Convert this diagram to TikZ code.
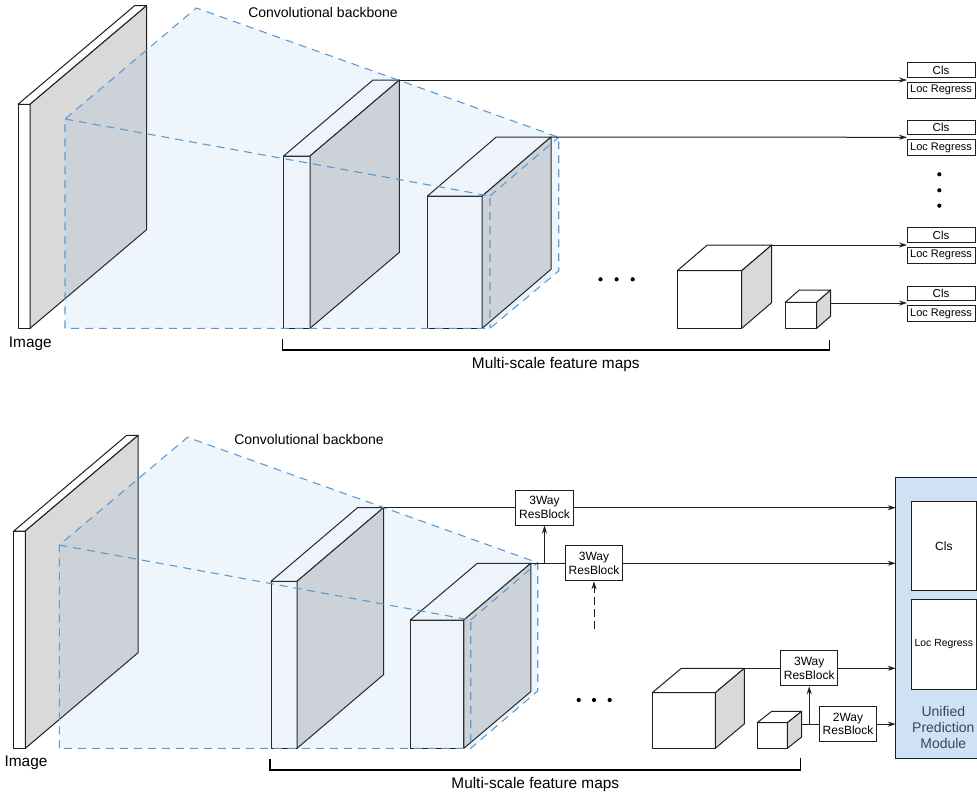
\documentclass[tikz,border=0pt]{standalone}
\usepackage{fontspec}
\setmainfont{Liberation Sans}
\usetikzlibrary{arrows.meta,calc}
\definecolor{dashblue}{HTML}{5B9BD5}
\definecolor{sidegray}{HTML}{D9D9D9}
\definecolor{upmfill}{HTML}{CFE2F3}
\definecolor{upmtext}{HTML}{33495F}
\definecolor{edgecol}{HTML}{1E1E1E}
\tikzset{
  cubeedge/.style={draw=edgecol,line width=1pt,line join=round},
  blueline/.style={draw=dashblue,line width=1.1pt,dash pattern=on 8pt off 6pt},
  conn/.style={draw=edgecol,line width=1pt},
  arr/.style={conn,-{Stealth[length=8pt,width=5pt]}},
  headbox/.style={draw=edgecol,line width=1pt,fill=white,minimum width=68pt,inner sep=0pt},
  clsbox/.style={headbox,minimum height=14.5pt,font=\fontsize{11.5}{13}\selectfont},
  locbox/.style={headbox,minimum height=15.5pt,font=\fontsize{11}{12}\selectfont},
  resbox/.style={draw=edgecol,line width=1pt,fill=white,minimum width=57.5pt,minimum height=35pt,inner sep=0pt,align=center,font=\fontsize{12}{13.3}\selectfont},
  bigtxt/.style={inner sep=0pt,anchor=base,font=\fontsize{15.4}{18}\selectfont},
  convtxt/.style={inner sep=0pt,anchor=base,font=\fontsize{14}{16}\selectfont},
  bracket/.style={draw=black,line width=1.5pt},
  dotn/.style={circle,fill=black,inner sep=0pt,minimum size=4.2pt}
}
\newcommand\mycuboid[7]{%
  \coordinate (#1-ftl) at (#2,#3);
  \coordinate (#1-ftr) at (#4,#3);
  \coordinate (#1-fbl) at (#2,#5);
  \coordinate (#1-fbr) at (#4,#5);
  \coordinate (#1-btl) at ($(#1-ftl)+(#6,#7)$);
  \coordinate (#1-btr) at ($(#1-ftr)+(#6,#7)$);
  \coordinate (#1-bbr) at ($(#1-fbr)+(#6,#7)$);
  \coordinate (#1-side) at ($(#1-btr)!0.5!(#1-bbr)$);
  \draw[cubeedge,fill=white] (#1-fbl) rectangle (#1-ftr);
  \draw[cubeedge,fill=white] (#1-ftl)--(#1-btl)--(#1-btr)--(#1-ftr)--cycle;
  \draw[cubeedge,fill=sidegray] (#1-ftr)--(#1-btr)--(#1-bbr)--(#1-fbr)--cycle;
}
\begin{document}
\begin{tikzpicture}[x=1pt,y=-1pt]
\useasboundingbox (0,0) rectangle (977,792);

%%%%%%%%%%%%%%%% TOP PANEL %%%%%%%%%%%%%%%%
\mycuboid{timg}{18}{104.3}{30}{328.3}{116.6}{-98.6}
\mycuboid{tf1}{283.6}{156}{310}{328.3}{89.4}{-76}
\mycuboid{tf2}{427.5}{196}{482.2}{328.3}{68.8}{-59}
\coordinate (tA) at (65,328.3);
\coordinate (tB) at (65,119);
\coordinate (tC) at (196.3,8);
\coordinate (tD) at (558.7,137.3);
\coordinate (tE) at (558.7,271);
\coordinate (tF) at (490,328.3);
\coordinate (tG) at (490,196);
\path[fill=dashblue,fill opacity=0.1] (tA)--(tB)--(tC)--(tD)--(tE)--(tF)--cycle;
\draw[blueline] (tA)--(tB)--(tC)--(tD)--(tE)--(tF)--cycle;
\draw[blueline] (tB)--(tG)--(tF);
\draw[blueline] (tG)--(tD);
\mycuboid{tf3}{677.3}{270.7}{741.7}{328.3}{30}{-25.7}
\mycuboid{tf4}{785.3}{302.3}{816.7}{328.3}{14}{-12.3}

% heads
\foreach \i/\y in {1/80,2/137.3,3/245,4/303.3}{
  \node[clsbox] (tcls\i) at (941,\y-10) {Cls};
  \node[locbox] (tloc\i) at (941,\y+10.25) {Loc Regress};
  \coordinate (thead\i) at (907,\y);
}
\draw[arr] (tf1-btr) -- (thead1);
\draw[arr] (tf2-btr) -- (thead2);
\draw[arr] (tf3-btr) -- (thead3);
\draw[arr] (tf4-side) -- (thead4 |- tf4-side);

\node[dotn] (tv1) at (939.3,174.3) {};
\node[dotn] (tv2) at (939.3,190.3) {};
\node[dotn] (tv3) at (939.3,205.7) {};
\node[dotn] (th1) at (600.5,279.3) {};
\node[dotn] (th2) at (616.6,279.3) {};
\node[dotn] (th3) at (632.7,279.3) {};

\coordinate (tbr1) at (282.4,339.3);
\coordinate (tbr2) at (829.3,339.8);
\draw[bracket] (tbr1) -- (tbr1 |- 0,350) -- (tbr2 |- 0,350) -- (tbr2);

\node[convtxt] (tconv) at (323,17.3) {Convolutional backbone};
\node[bigtxt] (timgtxt) at (30.3,347.7) {Image};
\node[bigtxt] (tmulti) at (555.8,368.3) {Multi-scale feature maps};

%%%%%%%%%%%%%%%% BOTTOM PANEL %%%%%%%%%%%%%%%%
\mycuboid{bimg}{13.8}{531}{25.3}{748.3}{112.9}{-95.7}
\mycuboid{bf1}{271}{581.3}{297}{748.3}{86.5}{-73.6}
\mycuboid{bf2}{410.3}{620}{463.8}{748.3}{67}{-56.7}
\coordinate (bA) at (59.3,748.3);
\coordinate (bB) at (59.3,545);
\coordinate (bC) at (187.5,437.3);
\coordinate (bD) at (537.7,562.7);
\coordinate (bE) at (537.7,691);
\coordinate (bF) at (470.7,748.3);
\coordinate (bG) at (470.7,620);
\path[fill=dashblue,fill opacity=0.1] (bA)--(bB)--(bC)--(bD)--(bE)--(bF)--cycle;
\draw[blueline] (bA)--(bB)--(bC)--(bD)--(bE)--(bF)--cycle;
\draw[blueline] (bB)--(bG)--(bF);
\draw[blueline] (bG)--(bD);
\mycuboid{bf3}{652.3}{692.7}{715.3}{748.3}{29}{-24.4}
\mycuboid{bf4}{757.3}{722.7}{787.3}{748.3}{14.4}{-11.4}

% unified prediction module
\node[fill=upmfill,minimum width=81.3pt,minimum height=281pt,inner sep=0pt,anchor=north west] (upm) at (895.7,477.3) {};
\draw[draw=edgecol,line width=1pt] (upm.north east) -- (upm.north west) -- (upm.south west) -- (upm.south east);
\node[draw=edgecol,line width=1pt,fill=white,minimum width=65.7pt,minimum height=89.7pt,inner sep=0pt,font=\fontsize{12}{14}\selectfont] (ucls) at (943.85,545.85) {Cls};
\node[draw=edgecol,line width=1pt,fill=white,minimum width=65.7pt,minimum height=89.7pt,inner sep=0pt,font=\fontsize{10.4}{12}\selectfont] (uloc) at (943.85,644.15) {Loc Regress};
\node[align=center,text=upmtext,inner sep=0pt,font=\fontsize{14}{16.3}\selectfont] (upmtxt) at (943.3,727.5) {Unified\\Prediction\\Module};

% resblocks
\node[resbox] (rb1) at (544.5,507.5) {3Way\\ResBlock};
\node[resbox] (rb2) at (594,563.3) {3Way\\ResBlock};
\node[resbox] (rb3) at (809.2,668.3) {3Way\\ResBlock};
\node[resbox] (rb4) at (848,724.2) {2Way\\ResBlock};

\coordinate (j1) at (544.5,563.3);
\coordinate (j2) at (809.2,724.1);
\coordinate (dstart) at (594,629.3);

\draw[conn] (bf1-btr) -- (rb1.west |- bf1-btr);
\draw[arr] (rb1.east |- bf1-btr) -- (upm.west |- bf1-btr);
\draw[conn] (bf2-btr) -- (rb2.west |- bf2-btr);
\draw[arr] (j1) -- (rb1.south);
\draw[arr] (rb2.east) -- (upm.west |- rb2.east);
\draw[arr,dash pattern=on 8pt off 4pt] (dstart) -- (rb2.south);
\draw[conn] (bf3-btr) -- (rb3.west |- bf3-btr);
\draw[arr] (rb3.east |- bf3-btr) -- (upm.west |- bf3-btr);
\draw[conn] (bf4-side) -- (rb4.west |- bf4-side);
\draw[arr] (j2) -- (rb3.south);
\draw[arr] (rb4.east |- bf4-side) -- (upm.west |- bf4-side);

\node[dotn] (bh1) at (578.7,700) {};
\node[dotn] (bh2) at (594,700) {};
\node[dotn] (bh3) at (609.7,700) {};

\coordinate (bbr1) at (269.8,759.3);
\coordinate (bbr2) at (800.7,758.3);
\draw[bracket] (bbr1) -- (bbr1 |- 0,770) -- (bbr2 |- 0,770) -- (bbr2);

\node[convtxt] (bconv) at (309,444.3) {Convolutional backbone};
\node[bigtxt] (bimgtxt) at (26,766.7) {Image};
\node[bigtxt] (bmulti) at (535.3,788.3) {Multi-scale feature maps};
\end{tikzpicture}
\end{document}
